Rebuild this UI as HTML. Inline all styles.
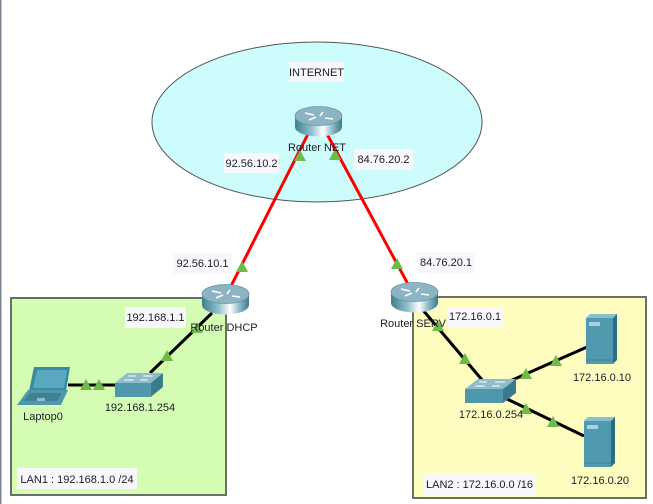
<!DOCTYPE html>
<html><head><meta charset="utf-8"><style>
html,body{margin:0;padding:0;background:#fff;}
svg{display:block;}
text{font-family:"Liberation Sans",Arial,sans-serif;font-size:11px;fill:#1c1c28;}
</style></head><body>
<svg width="653" height="504" viewBox="0 0 653 504" xmlns="http://www.w3.org/2000/svg">
<defs>
<linearGradient id="rside" x1="0" x2="1" y1="0" y2="0">
<stop offset="0" stop-color="#3f7f90"/><stop offset="0.35" stop-color="#8fbfcc"/><stop offset="0.6" stop-color="#ffffff"/><stop offset="0.8" stop-color="#8ab8c6"/><stop offset="1" stop-color="#3d7a8b"/>
</linearGradient>
<g id="router">
<path d="M0,10 L0,21 A23.5,9.5 0 0 0 47,21 L47,10 Z" fill="url(#rside)"/>
<ellipse cx="23.5" cy="10" rx="23.5" ry="9.5" fill="#8db4c3" stroke="#6a98a8" stroke-width="0.8"/>
<g stroke="#fff" stroke-width="1.6" fill="none">
<path d="M10,7 L19,9"/><path d="M14,14 L21,11"/><path d="M28,6 L25,10"/><path d="M30,12 L38,13"/>
</g>
</g>
<g id="switch">
<polygon points="13,0 51,0 38,10 0,10" fill="#8fbccb"/>
<rect x="0" y="10" width="38" height="14" fill="#4f97ab"/>
<polygon points="38,10 51,0 51,14 38,24" fill="#3a7a8e"/>
<g stroke="#fff" stroke-width="1">
<path d="M14,3 L22,3"/><path d="M30,3 L40,3"/><path d="M10,7 L20,7"/><path d="M27,7 L35,7"/>
</g>
</g>
<g id="server">
<polygon points="0,4 4,0 31,0 27,4" fill="#86c0cf"/>
<rect x="0" y="4" width="27" height="46" fill="#4f9aae"/>
<polygon points="27,4 31,0 31,46 27,50" fill="#2a6f80"/>
<rect x="3" y="8" width="11" height="4" fill="#a5d3df"/>
<path d="M0,46 L27,46" stroke="#3d8296" stroke-width="1"/>
</g>
<polygon id="tri" points="0,-6 6,5 -6,5" fill="#6cbb46"/>
</defs>

<rect x="0" y="0" width="1.5" height="504" fill="#7a8590"/>

<!-- Internet cloud -->
<ellipse cx="317" cy="122" rx="165" ry="80" fill="#ccfcfc" stroke="#555" stroke-width="1"/>

<!-- LAN boxes -->
<rect x="11" y="298" width="215" height="197" fill="#d4fcb2" stroke="#6a6f66" stroke-width="2"/>
<rect x="413" y="297" width="233" height="201" fill="#fffcc0" stroke="#6a6f66" stroke-width="2"/>

<!-- links -->
<g stroke="#ff0000" stroke-width="3">
<line x1="308" y1="134" x2="230" y2="288"/>
<line x1="327" y1="134" x2="409" y2="286"/>
</g>
<g stroke="#000" stroke-width="3">
<line x1="212" y1="313" x2="150" y2="373"/>
<line x1="68" y1="385" x2="117" y2="385"/>
<line x1="422" y1="309" x2="483" y2="381"/>
<line x1="510" y1="381" x2="587" y2="347"/>
<line x1="505" y1="398" x2="584" y2="436"/>
</g>

<!-- devices -->
<use href="#router" x="295" y="106"/>
<use href="#router" x="202" y="284"/>
<use href="#router" x="391" y="282"/>
<use href="#switch" x="115" y="373" transform="translate(115 373) scale(0.94 1) translate(-115 -373)"/>
<use href="#switch" x="465" y="379"/>
<use href="#server" x="586" y="314"/>
<use href="#server" x="584" y="417"/>

<!-- laptop -->
<polygon points="34,367 70,367 66,391 29,391" fill="#3a8aa0"/>
<polygon points="37,370 67,370 64,388 33,388" fill="#5aa8c0"/>
<polygon points="28,390 68,390 61,405 17,405" fill="#4f97ab"/>
<polygon points="30,393 62,393 57,401 24,401" fill="#3f8296"/>
<rect x="37" y="398" width="8" height="3" fill="#8fc0cf"/>

<!-- link lights -->
<use href="#tri" x="300" y="156"/>
<use href="#tri" x="335" y="155"/>
<use href="#tri" x="242" y="267"/>
<use href="#tri" x="397" y="264"/>
<use href="#tri" x="197" y="328"/>
<use href="#tri" x="167" y="356"/>
<use href="#tri" x="86" y="385"/>
<use href="#tri" x="99" y="385"/>
<use href="#tri" x="438" y="326"/>
<use href="#tri" x="465" y="359"/>
<use href="#tri" x="526" y="374"/>
<use href="#tri" x="556" y="361"/>
<use href="#tri" x="526" y="409"/>
<use href="#tri" x="553" y="422"/>

<!-- label boxes -->
<g fill="#f7f7fc">
<rect x="289" y="62" width="55" height="20"/>
<rect x="224" y="153" width="55" height="20"/>
<rect x="354" y="149" width="59" height="21"/>
<rect x="173" y="253" width="59" height="21"/>
<rect x="417" y="252" width="58" height="21"/>
<rect x="125" y="307" width="61" height="21"/>
<rect x="447" y="307" width="56" height="20"/>
<rect x="17" y="468" width="120" height="21"/>
<rect x="423" y="474" width="113" height="21"/>
</g>

<g text-anchor="middle">
<text x="316.5" y="76">INTERNET</text>
<text x="251.5" y="167">92.56.10.2</text>
<text x="383.5" y="163">84.76.20.2</text>
<text x="202.5" y="267">92.56.10.1</text>
<text x="446" y="266">84.76.20.1</text>
<text x="155.5" y="321">192.168.1.1</text>
<text x="475" y="320">172.16.0.1</text>
<text x="77" y="483">LAN1 : 192.168.1.0 /24</text>
<text x="479.5" y="488">LAN2 : 172.16.0.0 /16</text>
<text x="317" y="151">Router NET</text>
<text x="224" y="331">Router DHCP</text>
<text x="413" y="327">Router SERV</text>
<text x="140" y="411">192.168.1.254</text>
<text x="43" y="420">Laptop0</text>
<text x="491" y="418">172.16.0.254</text>
<text x="602" y="381">172.16.0.10</text>
<text x="600" y="484">172.16.0.20</text>
</g>
</svg>
</body></html>
